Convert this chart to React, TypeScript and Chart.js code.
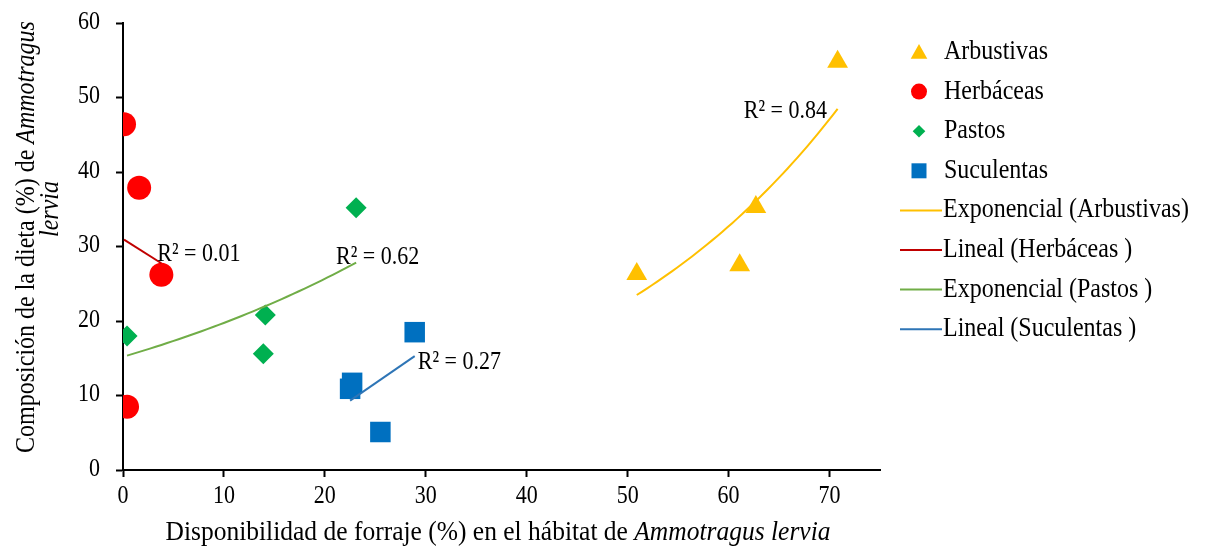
import React, { useEffect, useRef } from "react";
import { Chart, registerables } from "chart.js";

Chart.register(...registerables);

// ---- data ----
const arbustivasX = [50.9, 61.1, 62.7, 70.8];
const arbustivasY = [26.3, 27.5, 35.3, 54.8];
const herbaceasX = [0.1, 1.6, 3.8, 0.4];
const herbaceasY = [46.4, 37.9, 26.2, 8.5];
const pastosX = [0.4, 14.1, 13.9, 23.1];
const pastosY = [18.0, 20.8, 15.6, 35.2];
const suculentasX = [28.9, 22.7, 22.5, 25.5];
const suculentasY = [18.5, 11.7, 10.9, 5.1];

const xTickValues = [0, 10, 20, 30, 40, 50, 60, 70];
const yTickValues = [0, 10, 20, 30, 40, 50, 60];

const seriesLabels = ["Arbustivas", "Herbáceas", "Pastos", "Suculentas"];
const trendLabels = [
  "Exponencial (Arbustivas)",
  "Lineal (Herbáceas )",
  "Exponencial (Pastos )",
  "Lineal (Suculentas )",
];
const r2Texts = ["R² = 0.84", "R² = 0.01", "R² = 0.62", "R² = 0.27"];
const r2AnchorX = [61.5, 3.4, 21.1, 29.2];
const r2AnchorY = [48.2, 29.0, 28.5, 14.5];

const markerColors = ["#FFC000", "#FF0000", "#00B050", "#0070C0"];
const trendColors = ["#FFC000", "#C00000", "#70AD47", "#2E75B6"];

const FONT = "'Liberation Serif', 'Times New Roman', serif";
const SY = 1.18; // vertical stretch of text seen in the reference

// ---- regression helpers ----
function linearFit(xs: number[], ys: number[]) {
  const n = xs.length;
  const mx = xs.reduce((a, b) => a + b, 0) / n;
  const my = ys.reduce((a, b) => a + b, 0) / n;
  let sxy = 0, sxx = 0;
  for (let i = 0; i < n; i++) {
    sxy += (xs[i] - mx) * (ys[i] - my);
    sxx += (xs[i] - mx) ** 2;
  }
  const b = sxy / sxx;
  const a = my - b * mx;
  return (x: number) => a + b * x;
}
function expFit(xs: number[], ys: number[]) {
  const lin = linearFit(xs, ys.map((v) => Math.log(v)));
  return (x: number) => Math.exp(lin(x));
}
function curve(xs: number[], f: (x: number) => number, steps: number) {
  const lo = Math.min(...xs), hi = Math.max(...xs);
  const pts = [];
  for (let i = 0; i <= steps; i++) {
    const x = lo + ((hi - lo) * i) / steps;
    pts.push({ x, y: f(x) });
  }
  return pts;
}
const toPts = (xs: number[], ys: number[]) => xs.map((x, i) => ({ x, y: ys[i] }));

function drawMarker(ctx: CanvasRenderingContext2D, kind: number, x: number, y: number, s: number, color: string) {
  ctx.save();
  ctx.fillStyle = color;
  ctx.beginPath();
  if (kind === 0) {
    ctx.moveTo(x, y - s * 0.5);
    ctx.lineTo(x + s * 0.52, y + s * 0.42);
    ctx.lineTo(x - s * 0.52, y + s * 0.42);
    ctx.closePath();
  } else if (kind === 1) {
    ctx.arc(x, y, s / 2, 0, Math.PI * 2);
  } else if (kind === 2) {
    const h = s * 0.45;
    ctx.moveTo(x, y - h);
    ctx.lineTo(x + h, y);
    ctx.lineTo(x, y + h);
    ctx.lineTo(x - h, y);
    ctx.closePath();
  } else {
    ctx.rect(x - s / 2, y - s / 2, s, s);
  }
  ctx.fill();
  ctx.restore();
}

function stretchedText(
  ctx: CanvasRenderingContext2D,
  text: string,
  x: number,
  y: number,
  font: string,
  align: CanvasTextAlign,
  sy: number
) {
  ctx.save();
  ctx.font = font;
  ctx.textAlign = align;
  ctx.textBaseline = "middle";
  ctx.fillStyle = "#000";
  ctx.translate(x, y);
  ctx.scale(1, sy);
  ctx.fillText(text, 0, 0);
  ctx.restore();
}

const overlayPlugin = {
  id: "overlay",
  afterDraw(chart: any) {
    const ctx: CanvasRenderingContext2D = chart.ctx;
    const xs = chart.scales.x;
    const ys = chart.scales.y;
    ctx.save();

    // tick labels
    xTickValues.forEach((v) => {
      stretchedText(ctx, String(v), xs.getPixelForValue(v), 496, `22px ${FONT}`, "center", SY);
    });
    yTickValues.forEach((v) => {
      stretchedText(ctx, String(v), 100, ys.getPixelForValue(v) - 1, `22px ${FONT}`, "right", SY);
    });

    // R² labels
    r2Texts.forEach((t, i) => {
      stretchedText(ctx, t, xs.getPixelForValue(r2AnchorX[i]), ys.getPixelForValue(r2AnchorY[i]), `22px ${FONT}`, "left", SY);
    });

    // X axis title (mixed italic)
    const xPart1 = "Disponibilidad de forraje (%) en el hábitat de ";
    const xPart2 = "Ammotragus lervia";
    const xf1 = `25.5px ${FONT}`;
    const xf2 = `italic 25.5px ${FONT}`;
    ctx.font = xf1;
    const w1 = ctx.measureText(xPart1).width;
    ctx.font = xf2;
    const w2 = ctx.measureText(xPart2).width;
    const cx = 498;
    const tx = cx - (w1 + w2) / 2;
    const ty = 533;
    stretchedText(ctx, xPart1, tx, ty, xf1, "left", 1.1);
    stretchedText(ctx, xPart2, tx + w1, ty, xf2, "left", 1.1);

    // Y axis title (rotated, two lines)
    const yPart1 = "Composición de la dieta (%) de ";
    const yPart2 = "Ammotragus";
    const yLine2 = "lervia";
    const yf1 = `24px ${FONT}`;
    const yf2 = `italic 24px ${FONT}`;
    ctx.save();
    ctx.rotate(-Math.PI / 2);
    ctx.font = yf1;
    const v1 = ctx.measureText(yPart1).width;
    ctx.font = yf2;
    const v2 = ctx.measureText(yPart2).width;
    const cy = 237;
    const start = -cy - (v1 + v2) / 2;
    stretchedText(ctx, yPart1, start, 27, yf1, "left", 1.1);
    stretchedText(ctx, yPart2, start + v1, 27, yf2, "left", 1.1);
    stretchedText(ctx, yLine2, -209, 51, yf2, "center", 1.1);
    ctx.restore();

    // Legend
    const rowY0 = 52;
    const rowStep = 39.6;
    const legendSizes = [16, 16, 14, 15];
    seriesLabels.forEach((lab, i) => {
      const y = rowY0 + i * rowStep;
      drawMarker(ctx, i, 919, y, legendSizes[i], markerColors[i]);
      stretchedText(ctx, lab, 944, y, `24px ${FONT}`, "left", 1.1);
    });
    trendLabels.forEach((lab, i) => {
      const y = rowY0 + (i + 4) * rowStep;
      ctx.strokeStyle = trendColors[i];
      ctx.lineWidth = 2;
      ctx.beginPath();
      ctx.moveTo(900, y);
      ctx.lineTo(942, y);
      ctx.stroke();
      stretchedText(ctx, lab, 943, y, `24px ${FONT}`, "left", 1.1);
    });
    ctx.restore();
  },
};

export default function App() {
  const ref = useRef<HTMLCanvasElement | null>(null);
  useEffect(() => {
    document.body.style.margin = "0";
    const canvas = ref.current;
    if (!canvas) return;

    const fA = expFit(arbustivasX, arbustivasY);
    const fH = linearFit(herbaceasX, herbaceasY);
    const fP = expFit(pastosX, pastosY);
    const fS = linearFit(suculentasX, suculentasY);

    const lineDs = (label: string, data: any[], color: string) => ({
      type: "line" as const,
      label,
      data,
      borderColor: color,
      borderWidth: 2,
      pointRadius: 0,
      showLine: true,
      fill: false,
      tension: 0,
      order: 0,
    });

    const pointDs = (i: number, xsArr: number[], ysArr: number[], style: string, r: number) => ({
      label: seriesLabels[i],
      data: toPts(xsArr, ysArr),
      pointStyle: style,
      pointRadius: r,
      backgroundColor: markerColors[i],
      borderColor: markerColors[i],
      borderWidth: 0,
      order: 1,
    });

    const chart = new Chart(canvas, {
      type: "scatter",
      data: {
        datasets: [
          pointDs(0, arbustivasX, arbustivasY, "triangle", 12),
          pointDs(1, herbaceasX, herbaceasY, "circle", 12),
          pointDs(2, pastosX, pastosY, "rectRot", 10.5),
          pointDs(3, suculentasX, suculentasY, "rect", 14.5),
          lineDs(trendLabels[0], curve(arbustivasX, fA, 40), trendColors[0]),
          lineDs(trendLabels[1], curve(herbaceasX, fH, 1), trendColors[1]),
          lineDs(trendLabels[2], curve(pastosX, fP, 40), trendColors[2]),
          lineDs(trendLabels[3], curve(suculentasX, fS, 1), trendColors[3]),
        ] as any,
      },
      options: {
        animation: false,
        responsive: true,
        maintainAspectRatio: false,
        layout: { padding: { top: 23, right: 327, left: 0, bottom: 0 } },
        plugins: {
          legend: { display: false },
          tooltip: { enabled: false },
        },
        scales: {
          x: {
            type: "linear",
            min: 0,
            max: 75,
            afterFit: (s: any) => {
              s.height = 78;
            },
            afterBuildTicks: (s: any) => {
              s.ticks = xTickValues.map((v) => ({ value: v }));
            },
            ticks: { display: false },
            grid: {
              display: true,
              drawOnChartArea: false,
              drawTicks: true,
              tickLength: 7,
              tickColor: "#000",
              tickWidth: 2,
            },
            border: { display: true, color: "#000", width: 2 },
          },
          y: {
            type: "linear",
            min: 0,
            max: 60,
            afterFit: (s: any) => {
              s.width = 123;
            },
            afterBuildTicks: (s: any) => {
              s.ticks = yTickValues.map((v) => ({ value: v }));
            },
            ticks: { display: false },
            grid: {
              display: true,
              drawOnChartArea: false,
              drawTicks: true,
              tickLength: 7,
              tickColor: "#000",
              tickWidth: 2,
            },
            border: { display: true, color: "#000", width: 2 },
          },
        },
      },
      plugins: [overlayPlugin],
    });
    return () => chart.destroy();
  }, []);

  return (
    <div style={{ width: 1207, height: 548, position: "relative", background: "#fff" }}>
      <canvas ref={ref} />
    </div>
  );
}
